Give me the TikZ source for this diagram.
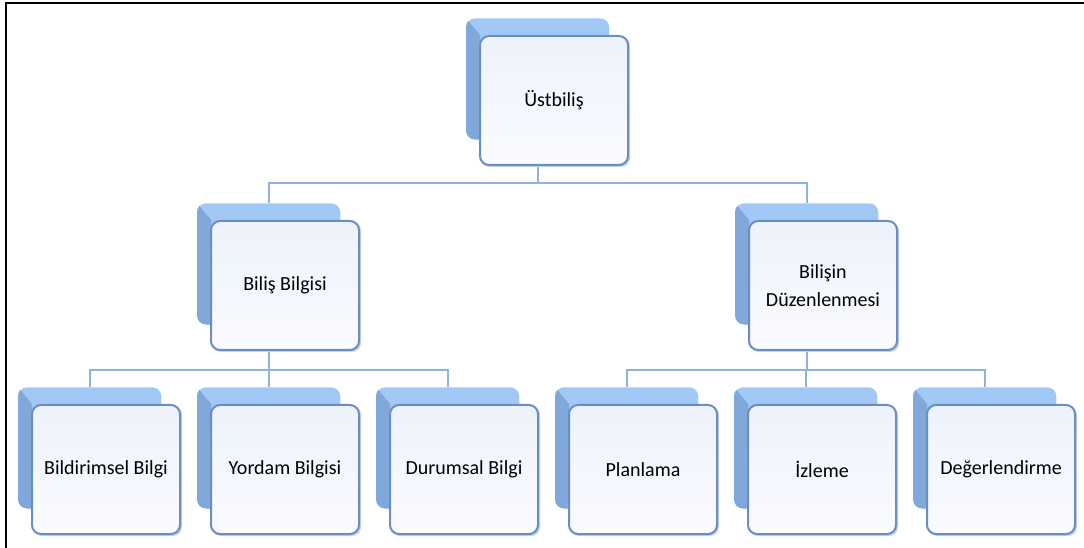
\documentclass[tikz,border=0pt]{standalone}
\usepackage{fontspec}
\setmainfont{Carlito}
\usetikzlibrary{calc}

\definecolor{topface}{HTML}{A2C9F5}
\definecolor{sideface}{HTML}{80A8DB}
\definecolor{edgeblue}{HTML}{6B8DC2}
\definecolor{fronttop}{HTML}{EDF2FB}
\definecolor{frontbot}{HTML}{FAFBFF}
\definecolor{linkblue}{HTML}{8DB3E2}
\definecolor{shadowblue}{HTML}{C3D2E8}

\pgfdeclarelayer{wires}
\pgfsetlayers{wires,main}

\tikzset{
  backbox/.style={rectangle, rounded corners=6.75pt, fill=topface,
    minimum width=107.25pt, minimum height=90.75pt, inner sep=0pt},
  frontbox/.style={rectangle, rounded corners=6.75pt, draw=edgeblue,
    line width=1.5pt, top color=fronttop, bottom color=frontbot,
    minimum width=111pt, minimum height=96.75pt, inner sep=0pt,
    align=center, font=\fontsize{15}{20.5}\selectfont, text=black},
  link/.style={draw=linkblue, line width=1.5pt},
}

% one box of the chart: raised back panel with a darker side, front card with the label
% #1 name, #2/#3 top-left corner of the back panel, #4 label
\newcommand\chartbox[4]{%
  \node[backbox, anchor=north west] (#1b) at (#2,#3) {};
  \begin{scope}
    \clip[rounded corners=6.75pt] (#1b.north west) rectangle (#1b.south east);
    \fill[sideface] (#1b.north west) -- ++(14,17) -- ($(#1b.south west)+(14,0)$)
      -- (#1b.south west) -- cycle;
  \end{scope}
  \fill[shadowblue, rounded corners=6.75pt]
    ($(#1b.north west)+(15,19)$) rectangle ++(149,130);
  \node[frontbox, anchor=north west] (#1) at ($(#1b.north west)+(13,17)$) {#4};
}

\begin{document}
\begin{tikzpicture}[x=0.75pt,y=-0.75pt]
\useasboundingbox (0,0) rectangle (1084,548);

% outer frame (top and left edges)
\draw[black, line width=1.5pt] (6,548) -- (6,3) -- (1084,3);

% level 1
\chartbox{ust}{466}{18}{Üstbiliş}
% level 2
\chartbox{bb}{197}{203}{Biliş Bilgisi}
\chartbox{bd}{735}{203}{Bilişin\\Düzenlenmesi}
% level 3
\chartbox{bildirimsel}{18}{387}{Bildirimsel Bilgi}
\chartbox{yordam}{197}{387}{Yordam Bilgisi}
\chartbox{durumsal}{376}{387}{Durumsal Bilgi}
\chartbox{planlama}{555}{387}{Planlama}
\chartbox{izleme}{734}{387}{İzleme}
\chartbox{deger}{913}{387}{Değerlendirme}

% connectors, drawn behind the boxes
\begin{pgfonlayer}{wires}
  \coordinate (lvA) at (0,183);
  \coordinate (lvB) at (0,370);
  \coordinate (busA) at (ustb.center |- lvA);
  \coordinate (busL) at (bbb.center |- lvB);
  \coordinate (busR) at (bdb.center |- lvB);
  \draw[link] (ustb.center) -- (busA);
  \draw[link] (bbb.north) |- (busA);
  \draw[link] (bdb.north) |- (busA);
  \draw[link] (bbb.center) -- (busL);
  \draw[link] (bildirimselb.north) |- (busL);
  \draw[link] (yordamb.north) |- (busL);
  \draw[link] (durumsalb.north) |- (busL);
  \draw[link] (bdb.center) -- (busR);
  \draw[link] (planlamab.north) |- (busR);
  \draw[link] (izlemeb.north) |- (busR);
  \draw[link] (degerb.north) |- (busR);
\end{pgfonlayer}
\end{tikzpicture}
\end{document}
